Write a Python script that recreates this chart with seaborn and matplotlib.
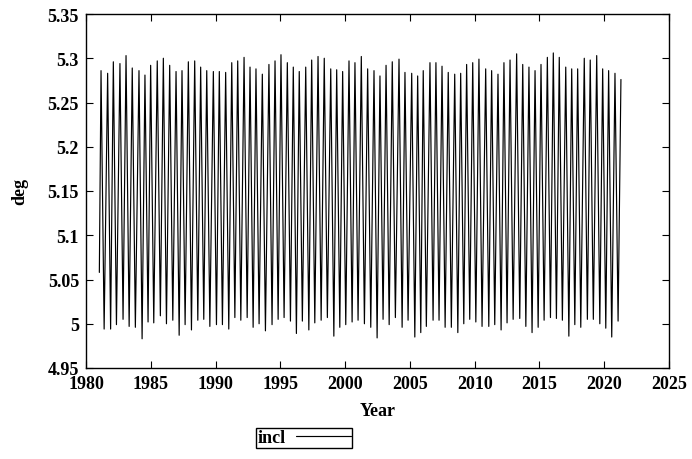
import numpy as np
import pandas as pd
import matplotlib
matplotlib.use("Agg")
import matplotlib.pyplot as plt
import seaborn as sns

# --- data (lunar inclination, deg) ---
start_year, start_val = 1981.03, 5.058
end_year, end_val = 2021.29, 5.276

peak_years = [
    1981.16, 1981.67, 1982.11, 1982.62, 1983.09, 1983.57, 1984.09, 1984.55, 1984.99, 1985.50,
    1985.97, 1986.46, 1986.95, 1987.41, 1987.90, 1988.39, 1988.85, 1989.32, 1989.83, 1990.29,
    1990.78, 1991.25, 1991.71, 1992.20, 1992.66, 1993.12, 1993.61, 1994.12, 1994.59, 1995.05,
    1995.54, 1996.00, 1996.46, 1996.96, 1997.42, 1997.91, 1998.39, 1998.89, 1999.35, 1999.81,
    2000.30, 2000.76, 2001.25, 2001.74, 2002.23, 2002.69, 2003.16, 2003.64, 2004.16, 2004.62,
    2005.14, 2005.60, 2006.03, 2006.55, 2007.01, 2007.48, 2007.96, 2008.46, 2008.92, 2009.38,
    2009.85, 2010.33, 2010.85, 2011.31, 2011.80, 2012.26, 2012.73, 2013.24, 2013.71, 2014.19,
    2014.66, 2015.12, 2015.61, 2016.07, 2016.53, 2017.03, 2017.49, 2017.95, 2018.46, 2018.92,
    2019.42, 2019.88, 2020.34, 2020.83,
]
peak_vals = [
    5.286, 5.283, 5.296, 5.294, 5.303, 5.289, 5.286, 5.281, 5.292, 5.297,
    5.300, 5.292, 5.285, 5.286, 5.296, 5.297, 5.290, 5.286, 5.285, 5.285,
    5.284, 5.295, 5.297, 5.301, 5.290, 5.288, 5.282, 5.293, 5.297, 5.304,
    5.295, 5.290, 5.285, 5.290, 5.298, 5.302, 5.300, 5.288, 5.287, 5.285,
    5.297, 5.295, 5.302, 5.288, 5.286, 5.280, 5.292, 5.296, 5.299, 5.284,
    5.283, 5.280, 5.286, 5.295, 5.295, 5.291, 5.284, 5.282, 5.283, 5.293,
    5.295, 5.299, 5.288, 5.286, 5.282, 5.295, 5.298, 5.305, 5.293, 5.290,
    5.286, 5.293, 5.301, 5.306, 5.301, 5.290, 5.288, 5.288, 5.300, 5.298,
    5.303, 5.288, 5.286, 5.283,
]
trough_vals = [
    4.994, 4.994, 4.999, 5.005, 4.997, 4.996, 4.983, 5.002, 5.001, 5.009,
    5.000, 5.004, 4.987, 4.999, 4.993, 5.004, 5.005, 4.997, 4.999, 4.999,
    4.994, 5.007, 5.004, 5.007, 4.996, 5.000, 4.992, 4.999, 5.005, 5.007,
    5.003, 4.989, 5.003, 4.993, 5.001, 5.004, 5.007, 4.986, 4.996, 4.999,
    5.002, 5.004, 5.000, 4.996, 4.984, 5.005, 4.999, 5.007, 4.996, 5.004,
    4.985, 4.990, 4.997, 5.004, 5.004, 4.996, 4.996, 4.990, 5.000, 5.005,
    5.002, 4.997, 4.997, 4.999, 4.993, 5.001, 5.005, 5.006, 4.997, 4.990,
    4.996, 5.004, 5.007, 5.006, 5.004, 4.986, 4.999, 4.996, 5.005, 5.005,
    5.000, 4.995, 4.985, 5.003,
]
# trough dates, read as the low tip right after each peak
trough_years = [
    1981.40, 1981.90, 1982.35, 1982.86, 1983.33, 1983.81, 1984.33, 1984.79, 1985.23, 1985.74,
    1986.21, 1986.70, 1987.19, 1987.65, 1988.14, 1988.63, 1989.09, 1989.56, 1990.07, 1990.53,
    1991.02, 1991.49, 1991.95, 1992.44, 1992.90, 1993.36, 1993.85, 1994.36, 1994.83, 1995.29,
    1995.78, 1996.24, 1996.70, 1997.20, 1997.66, 1998.15, 1998.63, 1999.13, 1999.59, 2000.05,
    2000.54, 2001.00, 2001.49, 2001.98, 2002.47, 2002.93, 2003.40, 2003.88, 2004.40, 2004.86,
    2005.38, 2005.84, 2006.27, 2006.79, 2007.25, 2007.72, 2008.20, 2008.70, 2009.16, 2009.62,
    2010.09, 2010.57, 2011.09, 2011.55, 2012.04, 2012.50, 2012.97, 2013.48, 2013.95, 2014.43,
    2014.90, 2015.36, 2015.85, 2016.31, 2016.77, 2017.27, 2017.73, 2018.19, 2018.70, 2019.16,
    2019.66, 2020.12, 2020.58, 2021.07,
]

years = [start_year]
vals = [start_val]
for py, pv, ty, tv in zip(peak_years, peak_vals, trough_years, trough_vals):
    years += [py, ty]
    vals += [pv, tv]
years.append(end_year)
vals.append(end_val)
df = pd.DataFrame({"Year": years, "incl": vals})

# --- plot ---
sns.set_style("ticks")
plt.rcParams["font.family"] = ["Liberation Serif", "DejaVu Serif"]
plt.rcParams["font.weight"] = "bold"
for key in ["text.color", "axes.labelcolor", "xtick.color", "ytick.color", "axes.edgecolor"]:
    plt.rcParams[key] = "black"

fig = plt.figure(figsize=(6.92, 4.60), dpi=100)
ax = fig.add_axes([86 / 692, 1 - 369 / 460, 583 / 692, 354 / 460])

sns.lineplot(data=df, x="Year", y="incl", color="black", linewidth=0.85,
             label="incl", ax=ax, sort=False, estimator=None)

ax.set_xlim(1980, 2025)
ax.set_ylim(4.95, 5.35)
ax.set_xticks(np.arange(1980, 2026, 5))
ax.set_yticks(np.arange(4.95, 5.351, 0.05))
ax.set_yticklabels(["4.95", "5", "5.05", "5.1", "5.15", "5.2", "5.25", "5.3", "5.35"])
ax.tick_params(direction="in", length=5, width=0.8, top=True, right=True,
               labelsize=13, pad=5)
for lab in ax.get_xticklabels() + ax.get_yticklabels():
    lab.set_fontweight("bold")
for sp in ax.spines.values():
    sp.set_linewidth(1.0)

ax.set_xlabel("Year", fontsize=13, fontweight="bold", labelpad=7)
ax.set_ylabel("deg", fontsize=13, fontweight="bold", labelpad=14)

leg = ax.legend(loc="center", bbox_to_anchor=(304 / 692, 1 - 439 / 460),
                bbox_transform=fig.transFigure, markerfirst=False, frameon=True,
                fancybox=False, edgecolor="black", framealpha=1,
                prop={"weight": "bold", "size": 13}, handlelength=3.0,
                borderpad=0.1, handletextpad=0.6)
leg.get_frame().set_linewidth(1.0)

fig.savefig("out.png", dpi=100)
